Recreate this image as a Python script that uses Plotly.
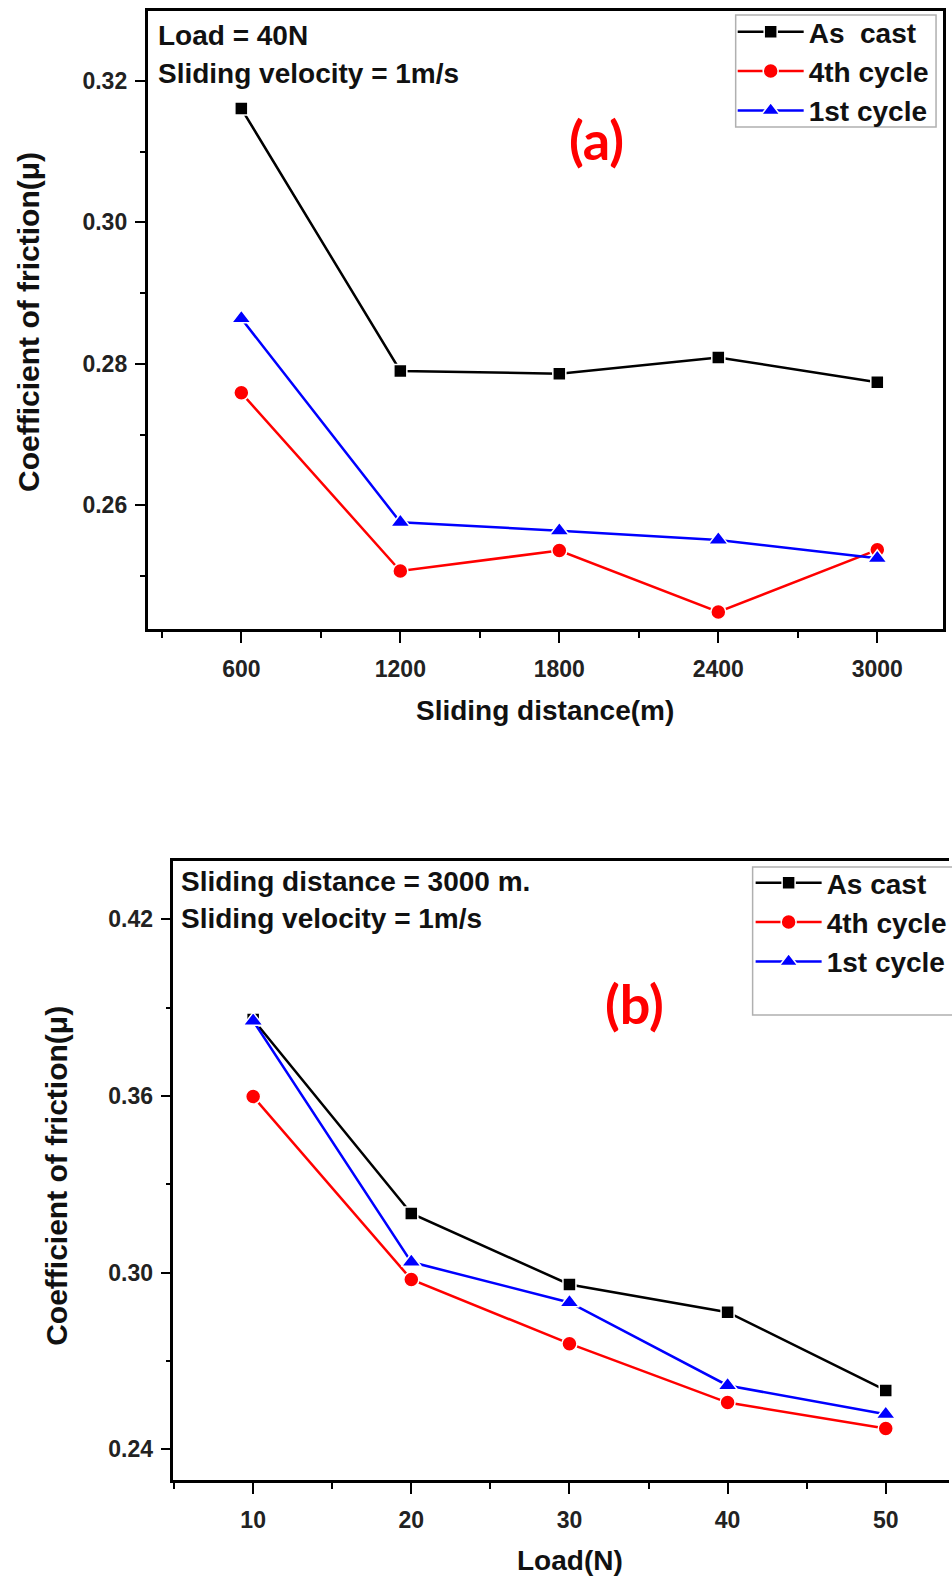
import plotly.graph_objects as go

# Panel (a): friction coefficient vs sliding distance (load 40 N, 1 m/s)
distance_m = [600, 1200, 1800, 2400, 3000]
a_as_cast = [0.3161, 0.2790, 0.2786, 0.2809, 0.2774]
a_4th_cycle = [0.2759, 0.2507, 0.2536, 0.2449, 0.2537]
a_1st_cycle = [0.2864, 0.2576, 0.2564, 0.2551, 0.2525]

# Panel (b): friction coefficient vs load (sliding distance 3000 m, 1 m/s)
load_n = [10, 20, 30, 40, 50]
b_as_cast = [0.3860, 0.3201, 0.2960, 0.2866, 0.2600]
b_4th_cycle = [0.3598, 0.2977, 0.2759, 0.2559, 0.2471]
b_1st_cycle = [0.3855, 0.3036, 0.2899, 0.2617, 0.2519]

W, H = 952, 1577
FONT = "Liberation Sans, Arial, sans-serif"


def px(x):
    return x / W


def py(y):
    return 1 - y / H


series = [
    ("As\u00a0 cast", "As cast", "black", "square", 13),
    ("4th cycle", "4th cycle", "#ff0000", "circle", 15),
    ("1st cycle", "1st cycle", "#0000ff", "triangle-up", 17),
]

fig = go.Figure()

for (name_a, name_b, color, symbol, size), ya, yb in zip(
    series, [a_as_cast, a_4th_cycle, a_1st_cycle], [b_as_cast, b_4th_cycle, b_1st_cycle]
):
    fig.add_trace(go.Scatter(
        x=distance_m, y=ya, name=name_a, mode="lines+markers",
        line=dict(color=color, width=2.5),
        marker=dict(symbol=symbol, size=size, color=color, line=dict(color="white", width=1.5)),
        xaxis="x", yaxis="y", legend="legend",
    ))
    fig.add_trace(go.Scatter(
        x=load_n, y=yb, name=name_b, mode="lines+markers",
        line=dict(color=color, width=2.5),
        marker=dict(symbol=symbol, size=size, color=color, line=dict(color="white", width=1.5)),
        xaxis="x2", yaxis="y2", legend="legend2",
    ))

tickfont = dict(family=FONT, size=23, color="#222222", weight="bold")
axis_common = dict(
    showline=True, linecolor="black", linewidth=2.5, ticks="outside",
    tickcolor="black", tickwidth=2, showgrid=False, zeroline=False,
    tickfont=tickfont,
)
legend_font = dict(family=FONT, size=28, color="#111111", weight="bold")

fig.update_layout(
    width=W, height=H,
    margin=dict(l=0, r=0, t=0, b=0),
    paper_bgcolor="white", plot_bgcolor="white",
    xaxis=dict(
        **axis_common, domain=[px(148), px(946)], range=[246, 3248],
        tickmode="linear", tick0=600, dtick=600, ticklen=11, mirror=True, ticklabelstandoff=7,
        minor=dict(tickmode="linear", tick0=300, dtick=300, ticklen=6, tickwidth=2, tickcolor="black", ticks="outside"),
        anchor="y",
    ),
    yaxis=dict(
        **axis_common, domain=[py(629), py(11)], range=[0.2425, 0.3299],
        tickmode="linear", tick0=0.26, dtick=0.02, tickformat=".2f", ticklen=10, mirror=True, ticklabelstandoff=3,
        minor=dict(tickmode="linear", tick0=0.25, dtick=0.01, ticklen=5, tickwidth=2, tickcolor="black", ticks="outside"),
        anchor="x",
    ),
    xaxis2=dict(
        **axis_common, domain=[px(174), 1.0], range=[4.96, 54],
        tickmode="linear", tick0=10, dtick=10, ticklen=11, mirror=True, ticklabelstandoff=7,
        minor=dict(tickmode="linear", tick0=5, dtick=5, ticklen=6, tickwidth=2, tickcolor="black", ticks="outside"),
        anchor="y2",
    ),
    yaxis2=dict(
        **axis_common, domain=[py(1480), py(861)], range=[0.2296, 0.4398],
        tickmode="linear", tick0=0.24, dtick=0.06, tickformat=".2f", ticklen=10, mirror=False, ticklabelstandoff=3,
        minor=dict(tickmode="linear", tick0=0.27, dtick=0.06, ticklen=5, tickwidth=2, tickcolor="black", ticks="outside"),
        anchor="x2",
    ),
    legend=dict(
        x=px(735), y=py(7), xanchor="left", yanchor="top",
        bgcolor="rgba(0,0,0,0)", borderwidth=0,
        font=legend_font, itemwidth=66, tracegroupgap=0,
    ),
    legend2=dict(
        x=px(753), y=py(858), xanchor="left", yanchor="top",
        bgcolor="rgba(0,0,0,0)", borderwidth=0,
        font=legend_font, itemwidth=66, tracegroupgap=0,
    ),
    showlegend=True,
)

# legend frames
for x0, y0, x1, y1 in [(738, 15, 939, 127), (755, 867, 962, 1015)]:
    fig.add_shape(
        type="rect", xref="paper", yref="paper",
        x0=px(x0), x1=px(x1), y0=py(y1), y1=py(y0),
        line=dict(color="#b0b0b0", width=1.5), fillcolor="white", layer="below",
    )

bold = dict(family=FONT, size=28, color="#111111", weight="bold")
ytitle = dict(family=FONT, size=30, color="#111111", weight="bold")
label_font = dict(family="Lato, Carlito, sans-serif", size=54, color="#ff0000", weight="bold")
annotations = [
    # panel (a) notes and axis titles
    dict(text="Load = 40N", x=px(156), y=py(35), xanchor="left", yanchor="middle", font=bold),
    dict(text="Sliding velocity = 1m/s", x=px(156), y=py(73), xanchor="left", yanchor="middle", font=bold),
    dict(text="(a)", x=px(598), y=py(140), xanchor="center", yanchor="middle", font=label_font),
    dict(text="Sliding distance(m)", x=px(547), y=py(710), xanchor="center", yanchor="middle", font=bold),
    dict(text="Coefficient of friction(\u03bc)", x=px(29), y=py(322), xanchor="center", yanchor="middle",
         textangle=-90, font=ytitle),
    # panel (b) notes and axis titles
    dict(text="Sliding distance = 3000 m.", x=px(180), y=py(881), xanchor="left", yanchor="middle", font=bold),
    dict(text="Sliding velocity = 1m/s", x=px(180), y=py(918), xanchor="left", yanchor="middle", font=bold),
    dict(text="(b)", x=px(637), y=py(1003), xanchor="center", yanchor="middle", font=label_font),
    dict(text="Load(N)", x=px(572), y=py(1560), xanchor="center", yanchor="middle", font=bold),
    dict(text="Coefficient of friction(\u03bc)", x=px(56), y=py(1176), xanchor="center", yanchor="middle",
         textangle=-90, font=ytitle),
]
for a in annotations:
    a.update(xref="paper", yref="paper", showarrow=False)
fig.update_layout(annotations=annotations)

fig.write_html("out.html")
